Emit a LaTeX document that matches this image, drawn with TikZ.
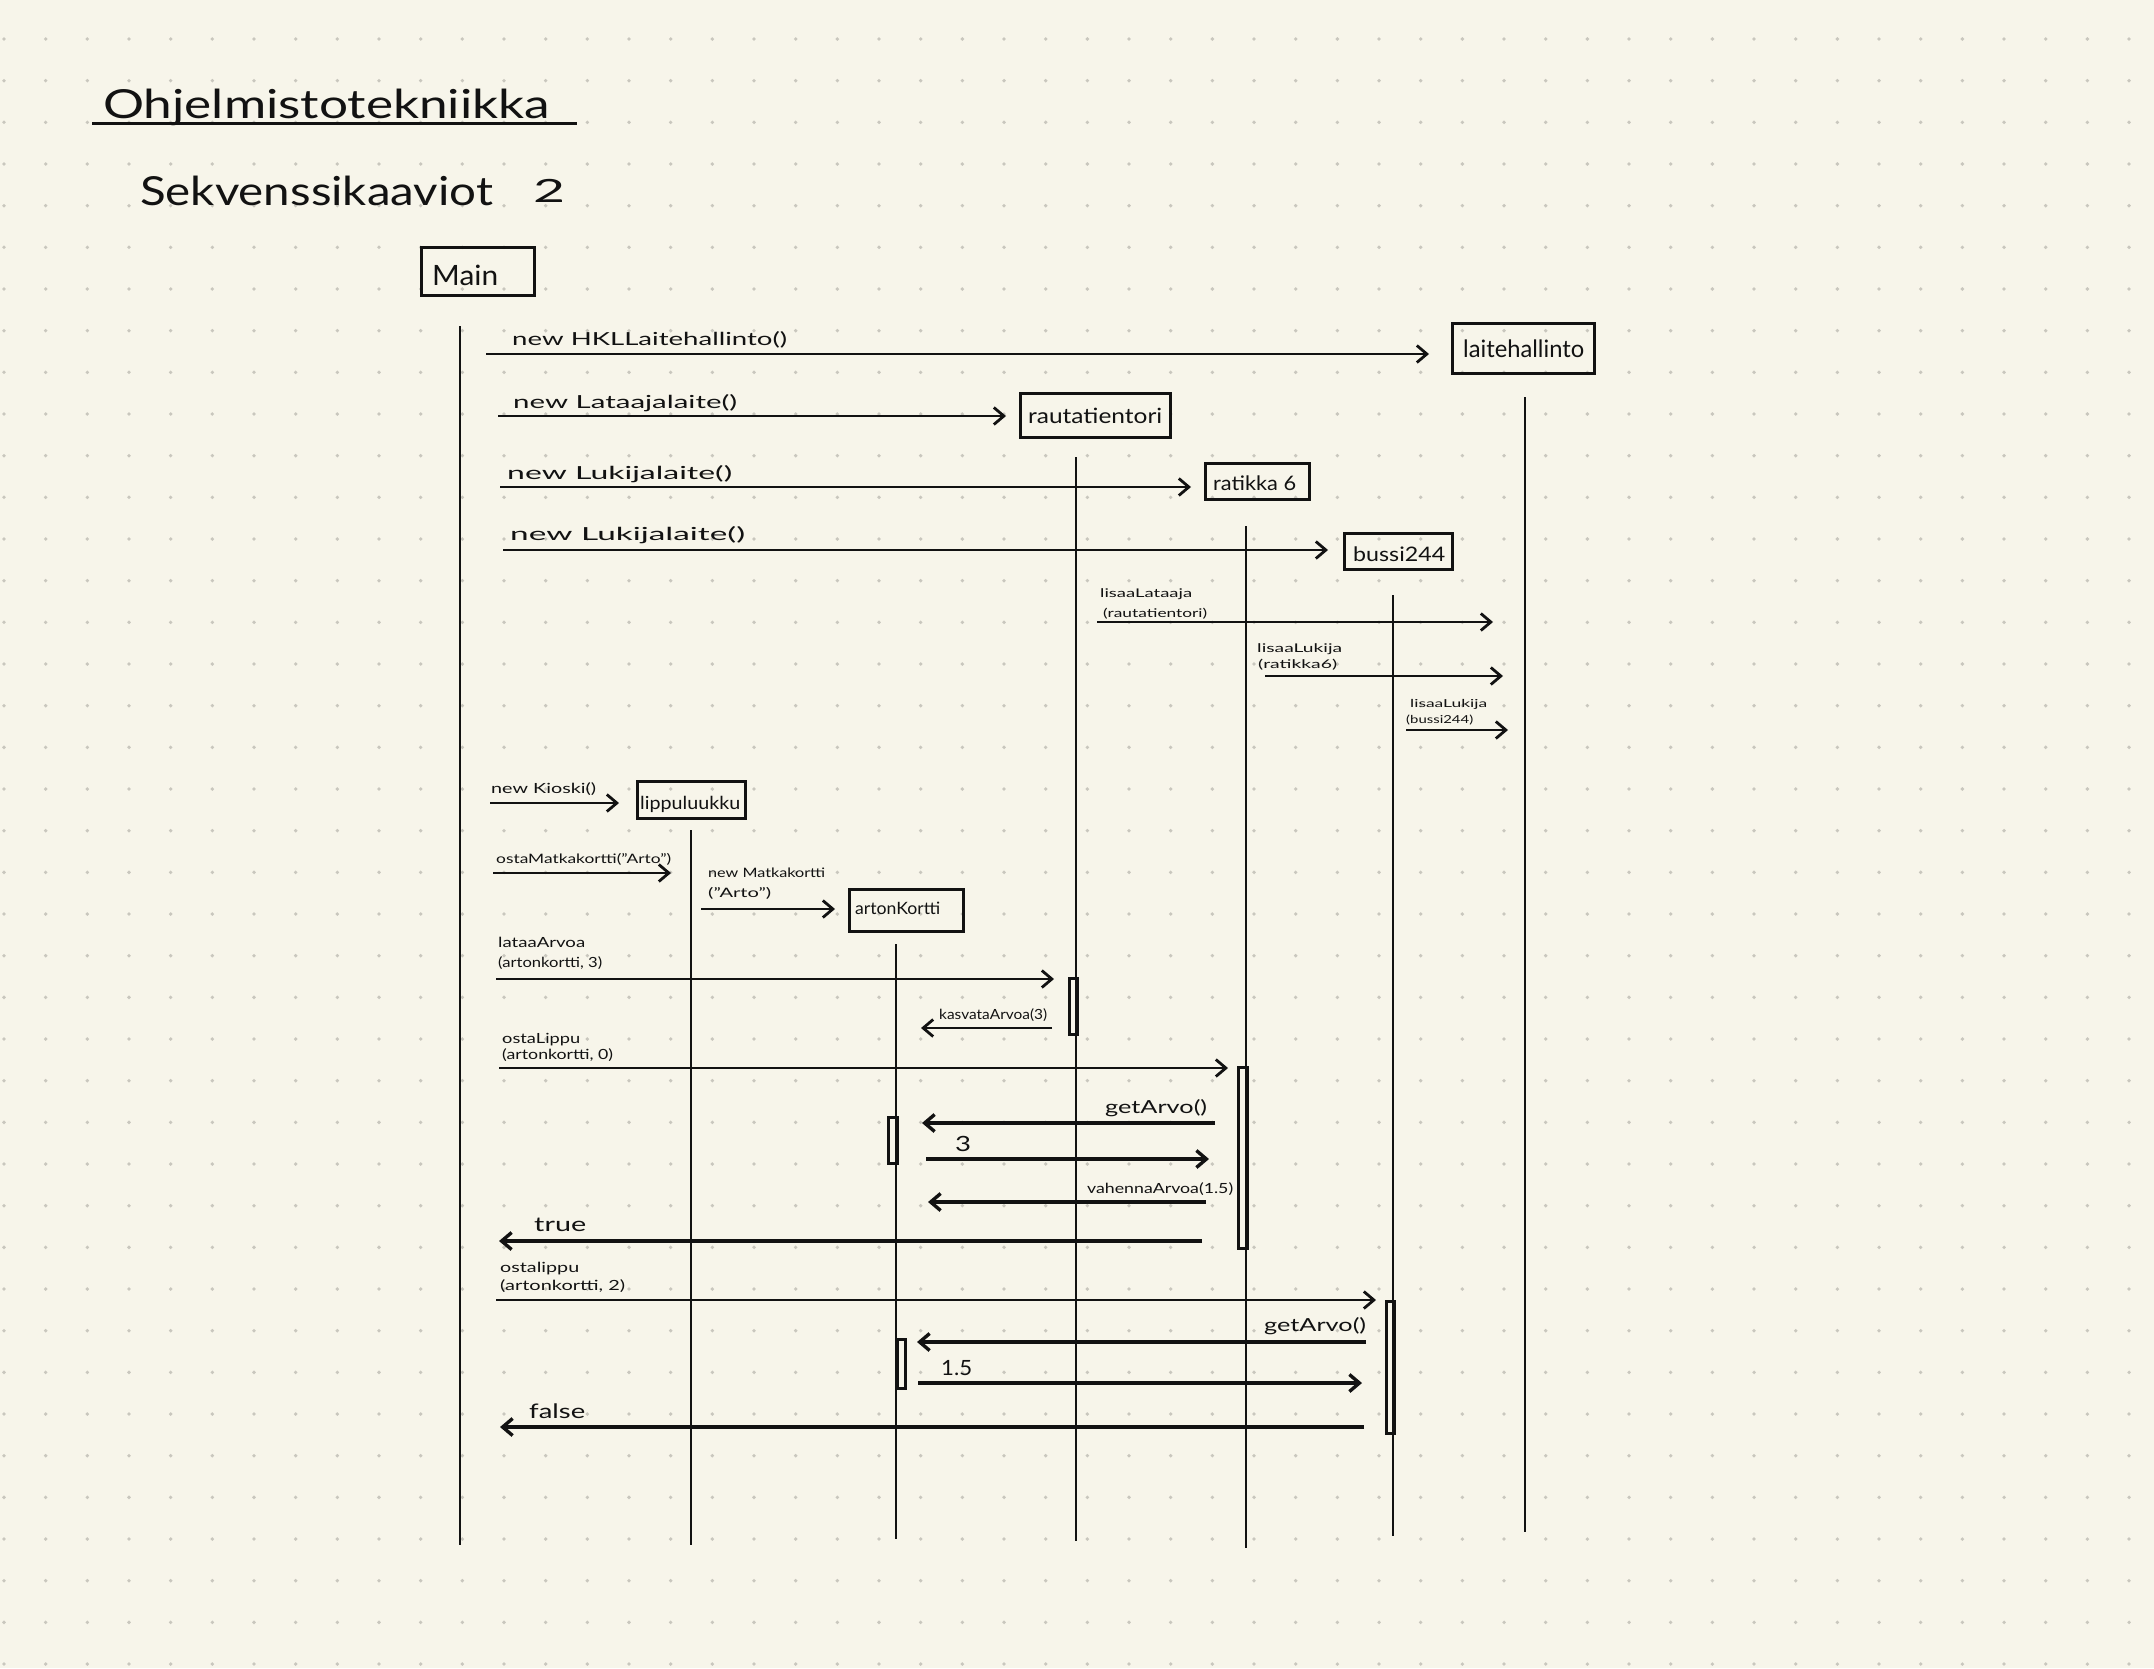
\documentclass[tikz,border=0pt]{standalone}
\usepackage{fontspec}
\setmainfont{Lato}
\usepackage{graphicx}
\usetikzlibrary{arrows.meta}
\definecolor{paper}{HTML}{F7F5EA}
\definecolor{dotc}{HTML}{C9C7BE}
\definecolor{ink}{HTML}{121212}
% handwritten-looking text: size, target width, text
\newcommand\hw[3]{{\fontsize{#1}{#1}\selectfont\resizebox{#2pt}{\height}{#3}}}

\begin{document}
\begin{tikzpicture}[x=1pt,y=-1pt,
  lifeline/.style={ink, line width=2.6pt},
  msg/.style={ink, line width=2.8pt, -{Straight Barb[length=10pt,width=17pt]}},
  boldmsg/.style={msg, line width=3.4pt},
  objbox/.style={draw=ink, line width=3pt, inner sep=0pt, anchor=north west},
  act/.style={draw=ink, line width=2.5pt, inner sep=0pt, anchor=north west},
  txt/.style={text=ink, inner sep=0pt, anchor=base west},
]
% paper and dot grid
\fill[paper] (0,0) rectangle (2154,1668);
\useasboundingbox (0,0) rectangle (2154,1668);
\foreach \i in {0,...,51}
  \foreach \j in {0,...,39}
    \fill[dotc] (4+41.667*\i, 39+41.667*\j) circle[radius=1.9pt];

% heading
\node[txt] (title) at (103,118) {\hw{40}{447}{Ohjelmistotekniikka}};
\coordinate (ulA) at (92,123);
\coordinate (ulB) at (577,123);
\draw[ink, line width=3pt] (ulA) -- (ulB);
\node[txt] (sub) at (140,205) {\hw{40}{353}{Sekvenssikaaviot}};
\node[txt] (subnum) at (533,202) {\hw{32}{32}{2}};

% objects
\node[objbox, minimum width=113pt, minimum height=48pt] (main) at (420,246) {};
\node[txt] (mainT) at (432,285) {\hw{28}{66}{Main}};
\node[objbox, minimum width=142pt, minimum height=50pt] (laite) at (1451,322) {};
\node[txt] (laiteT) at (1463,357) {\hw{24}{121}{laitehallinto}};
\node[objbox, minimum width=150pt, minimum height=44pt] (rauta) at (1019,392) {};
\node[txt] (rautaT) at (1028,423) {\hw{21}{134}{rautatientori}};
\node[objbox, minimum width=104pt, minimum height=36pt] (ratikka) at (1204,462) {};
\node[txt] (ratikkaT) at (1213,490) {\hw{20}{83}{ratikka 6}};
\node[objbox, minimum width=108pt, minimum height=36pt] (bussi) at (1343,532) {};
\node[txt] (bussiT) at (1353,561) {\hw{20}{92}{bussi244}};
\node[objbox, minimum width=108pt, minimum height=37pt] (lippu) at (636,780) {};
\node[txt] (lippuT) at (640,809) {\hw{18}{100}{lippuluukku}};
\node[objbox, minimum width=114pt, minimum height=42pt] (kortti) at (848,888) {};
\node[txt] (korttiT) at (855,914) {\hw{17}{85}{artonKortti}};

% lifelines
\coordinate (mainL1) at (460,326);   \coordinate (mainL2) at (460,1545);
\coordinate (laiteL1) at (1525,397); \coordinate (laiteL2) at (1525,1532);
\coordinate (rautaL1) at (1076,457); \coordinate (rautaL2) at (1076,1541);
\coordinate (ratL1) at (1246,526);   \coordinate (ratL2) at (1246,1548);
\coordinate (bussiL1) at (1393,595); \coordinate (bussiL2) at (1393,1536);
\coordinate (lippuL1) at (691,830);  \coordinate (lippuL2) at (691,1545);
\coordinate (korttiL1) at (896,944); \coordinate (korttiL2) at (896,1539);
\foreach \a/\b in {mainL1/mainL2, laiteL1/laiteL2, rautaL1/rautaL2, ratL1/ratL2,
                   bussiL1/bussiL2, lippuL1/lippuL2, korttiL1/korttiL2}
  \draw[lifeline] (\a) -- (\b);

% activation bars
\node[act, minimum width=8pt, minimum height=56pt] (act1) at (1068,977) {};
\node[act, minimum width=9pt, minimum height=181pt] (act2) at (1237,1066) {};
\node[act, minimum width=9pt, minimum height=46pt] (act3) at (887,1116) {};
\node[act, minimum width=8pt, minimum height=132pt] (act4) at (1385,1300) {};
\node[act, minimum width=8pt, minimum height=49pt] (act5) at (896,1338) {};

% message end points
\coordinate (m1s) at (486,354);   \coordinate (m1e) at (1429,354);
\coordinate (m2s) at (498,416);   \coordinate (m2e) at (1006,416);
\coordinate (m3s) at (500,487);   \coordinate (m3e) at (1191,487);
\coordinate (m4s) at (503,550);   \coordinate (m4e) at (1328,550);
\coordinate (m5s) at (1097,622);  \coordinate (m5e) at (1493,622);
\coordinate (m6s) at (1265,676);  \coordinate (m6e) at (1503,676);
\coordinate (m7s) at (1406,730);  \coordinate (m7e) at (1508,730);
\coordinate (m8s) at (490,803);   \coordinate (m8e) at (619,803);
\coordinate (m9s) at (493,873);   \coordinate (m9e) at (671,873);
\coordinate (m10s) at (701,909);  \coordinate (m10e) at (835,909);
\coordinate (m11s) at (496,979);  \coordinate (m11e) at (1054,979);
\coordinate (m12s) at (1052,1028);\coordinate (m12e) at (921,1028);
\coordinate (m13s) at (499,1068); \coordinate (m13e) at (1228,1068);
\coordinate (m14s) at (1215,1123);\coordinate (m14e) at (922,1123);
\coordinate (m15s) at (926,1159); \coordinate (m15e) at (1209,1159);
\coordinate (m16s) at (1206,1202);\coordinate (m16e) at (928,1202);
\coordinate (m17s) at (1202,1241);\coordinate (m17e) at (499,1241);
\coordinate (m18s) at (496,1300); \coordinate (m18e) at (1376,1300);
\coordinate (m19s) at (1366,1342);\coordinate (m19e) at (917,1342);
\coordinate (m20s) at (918,1383); \coordinate (m20e) at (1362,1383);
\coordinate (m21s) at (1364,1427);\coordinate (m21e) at (500,1427);

\foreach \m in {1,...,13,18}
  \draw[msg] (m\m s) -- (m\m e);
\foreach \m in {14,...,17,19,20,21}
  \draw[boldmsg] (m\m s) -- (m\m e);

% message labels
\node[txt] (l1) at (512,345) {\hw{18}{275}{new HKLLaitehallinto()}};
\node[txt] (l2) at (513,408) {\hw{18}{224}{new Lataajalaite()}};
\node[txt] (l3) at (507,479) {\hw{18}{225}{new Lukijalaite()}};
\node[txt] (l4) at (510,540) {\hw{18}{235}{new Lukijalaite()}};
\node[txt] (l5a) at (1100,597) {\hw{12}{92}{lisaaLataaja}};
\node[txt] (l5b) at (1103,617) {\hw{12}{104}{(rautatientori)}};
\node[txt] (l6a) at (1257,652) {\hw{12}{85}{lisaaLukija}};
\node[txt] (l6b) at (1258,668) {\hw{12}{79}{(ratikka6)}};
\node[txt] (l7a) at (1410,707) {\hw{11}{77}{lisaaLukija}};
\node[txt] (l7b) at (1406,723) {\hw{11}{67}{(bussi244)}};
\node[txt] (l8) at (491,793) {\hw{14}{105}{new Kioski()}};
\node[txt] (l9) at (496,863) {\hw{13}{175}{ostaMatkakortti("Arto")}};
\node[txt] (l10a) at (708,877) {\hw{13}{117}{new Matkakortti}};
\node[txt] (l10b) at (708,897) {\hw{13}{63}{("Arto")}};
\node[txt] (l11a) at (498,947) {\hw{14}{87}{lataaArvoa}};
\node[txt] (l11b) at (498,967) {\hw{14}{104}{(artonkortti, 3)}};
\node[txt] (l12) at (939,1019) {\hw{14}{108}{kasvataArvoa(3)}};
\node[txt] (l13a) at (502,1043) {\hw{14}{78}{ostaLippu}};
\node[txt] (l13b) at (502,1059) {\hw{14}{111}{(artonkortti, 0)}};
\node[txt] (l14) at (1105,1113) {\hw{18}{102}{getArvo()}};
\node[txt] (l15) at (955,1151) {\hw{21}{16}{3}};
\node[txt] (l16) at (1087,1193) {\hw{14}{146}{vahennaArvoa(1.5)}};
\node[txt] (l17) at (534,1231) {\hw{20}{52}{true}};
\node[txt] (l18a) at (500,1272) {\hw{14}{79}{ostalippu}};
\node[txt] (l18b) at (500,1290) {\hw{14}{125}{(artonkortti, 2)}};
\node[txt] (l19) at (1264,1331) {\hw{18}{102}{getArvo()}};
\node[txt] (l20) at (941,1375) {\hw{21}{31}{1.5}};
\node[txt] (l21) at (529,1418) {\hw{20}{56}{false}};
\end{tikzpicture}
\end{document}
